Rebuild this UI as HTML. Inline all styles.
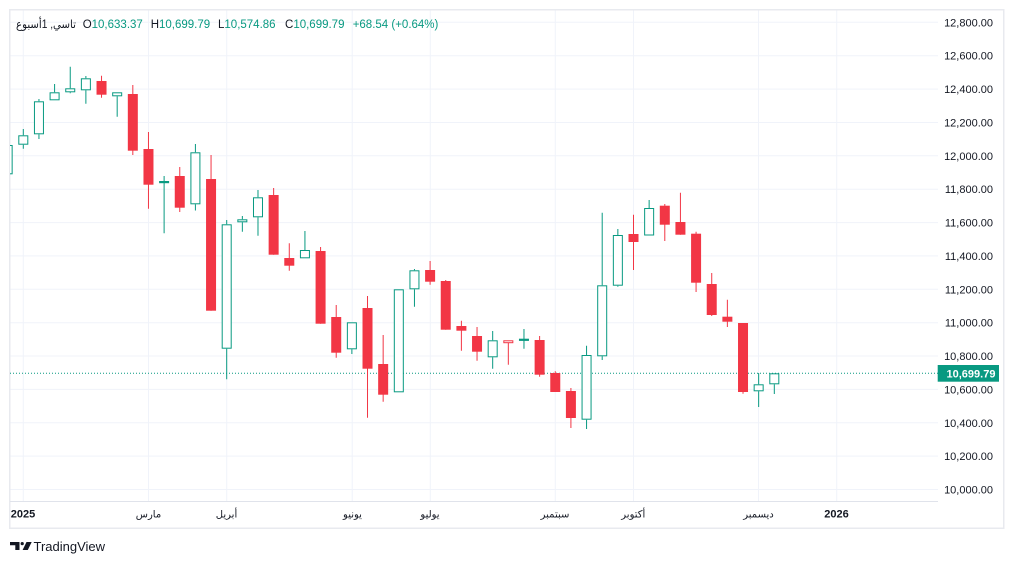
<!DOCTYPE html>
<html><head><meta charset="utf-8"><style>
html,body{margin:0;padding:0;background:#fff;width:1014px;height:564px;overflow:hidden}
svg{display:block}
text{font-family:"Liberation Sans","DejaVu Sans",sans-serif}
</style></head><body>
<svg width="1014" height="564" viewBox="0 0 1014 564" xmlns="http://www.w3.org/2000/svg">
<defs><clipPath id="pl"><rect x="10" y="10" width="928" height="491"/></clipPath></defs>
<rect x="0" y="0" width="1014" height="564" fill="#fff"/>
<!-- grid -->
<g stroke="#f0f3fa" stroke-width="1">
<path d="M10 489.5H938M10 456.1H938M10 422.8H938M10 389.4H938M10 356H938M10 322.7H938M10 289.3H938M10 255.9H938M10 222.6H938M10 189.2H938M10 155.8H938M10 122.5H938M10 89.1H938M10 55.7H938M10 22.3H938"/>
<path d="M23.3 10V501M148.5 10V501M226.7 10V501M352.2 10V501M430.3 10V501M555.3 10V501M633.5 10V501M758.5 10V501M836.7 10V501"/>
</g>
<!-- border -->
<rect x="9.75" y="9.75" width="994" height="518.5" fill="none" stroke="#e8eaef" stroke-width="1.5"/>
<path d="M10 501.5H938" stroke="#e0e3eb" stroke-width="1"/>
<!-- dotted last price -->
<path d="M10 373.3H938" stroke="#089981" stroke-width="1" stroke-dasharray="1,2"/>
<g clip-path="url(#pl)">
<!-- red wicks -->
<path fill="none" stroke="#f23645" stroke-width="1" d="M101.53 75.7V97.7M132.82 85V155M148.47 132V208.7M179.76 167V212M211.05 155V310.7M273.64 188V254.7M289.28 243.3V270.7M320.58 247V323.7M336.22 305V357.7M367.51 296V417.7M383.16 335V401.7M430.1 261V284.7M445.74 280V329.7M461.39 320.7V350.7M477.04 327V360.7M508.33 342.7V364.7M539.62 336V376.7M555.27 371.3V392M570.91 388V428M633.5 214.7V270M664.79 204V241M680.43 192.7V234.7M696.08 231.7V292M711.73 273V316M727.37 299.7V327M743.02 323V393.7"/>
<!-- red bodies -->
<g fill="#f23645">
<rect x="96.53" y="81" width="10" height="13.7"/>
<rect x="127.82" y="94" width="10" height="56.7"/>
<rect x="143.47" y="149" width="10" height="35.7"/>
<rect x="174.76" y="176" width="10" height="31.7"/>
<rect x="206.05" y="179" width="10" height="131.7"/>
<rect x="268.64" y="195" width="10" height="59.7"/>
<rect x="284.28" y="258" width="10" height="7.7"/>
<rect x="315.58" y="251" width="10" height="72.7"/>
<rect x="331.22" y="317" width="10" height="35.7"/>
<rect x="362.51" y="308" width="10" height="60.7"/>
<rect x="378.16" y="364" width="10" height="30.7"/>
<rect x="425.1" y="270" width="10" height="11.7"/>
<rect x="440.74" y="281" width="10" height="48.7"/>
<rect x="456.39" y="326" width="10" height="4.7"/>
<rect x="472.04" y="336" width="10" height="15.7"/>
<rect x="534.62" y="340" width="10" height="34.7"/>
<rect x="550.27" y="373" width="10" height="19"/>
<rect x="565.91" y="391" width="10" height="27"/>
<rect x="628.5" y="234" width="10" height="8"/>
<rect x="659.79" y="205.7" width="10" height="19"/>
<rect x="675.43" y="222" width="10" height="12.7"/>
<rect x="691.08" y="233.7" width="10" height="49"/>
<rect x="706.73" y="284" width="10" height="31"/>
<rect x="722.37" y="316.7" width="10" height="5"/>
<rect x="738.02" y="323" width="10" height="69"/>
</g>
<rect x="503.83" y="340.8" width="9" height="1.9" fill="#fff" stroke="#f23645" stroke-width="1"/>
<!-- green wicks -->
<path fill="none" stroke="#089981" stroke-width="1" d="M23.3 129V135.3M23.3 144.7V148.7M38.95 99V101.3M38.95 134.3V139M54.59 84V92.3M70.24 66.7V88.3M70.24 92.3V93.3M85.88 76V78.3M85.88 90.3V103.7M117.18 96.3V116.7M164.11 176V233.3M195.41 144V152.3M195.41 204.3V210.5M226.7 220V224.3M226.7 348.7V379.3M242.35 216V219.3M242.35 222.3V231.7M257.99 190V197.3M257.99 217.3V235.7M304.93 231V250M351.87 349.3V354M414.45 269V270.3M414.45 289.3V306.7M492.68 331V340.3M492.68 357.3V368.7M523.97 329V348.7M586.56 345.7V355M586.56 419.7V429M602.2 212.7V285.3M602.2 356.3V360M617.85 229V235M617.85 285.7V286.7M649.14 200V208M758.66 373V384.3M758.66 391.3V407M774.31 384.3V394"/>
<!-- green hollow bodies -->
<g fill="#fff" stroke="#089981" stroke-width="1">
<rect x="3.15" y="145.5" width="9" height="28.3"/>
<rect x="18.8" y="135.8" width="9" height="8.4"/>
<rect x="34.45" y="101.8" width="9" height="32"/>
<rect x="50.09" y="92.8" width="9" height="7"/>
<rect x="65.74" y="88.8" width="9" height="3"/>
<rect x="81.38" y="78.8" width="9" height="11"/>
<rect x="112.68" y="92.8" width="9" height="3"/>
<rect x="190.91" y="152.8" width="9" height="51"/>
<rect x="222.2" y="224.8" width="9" height="123.4"/>
<rect x="237.85" y="219.8" width="9" height="2"/>
<rect x="253.49" y="197.8" width="9" height="19"/>
<rect x="300.43" y="250.5" width="9" height="7.3"/>
<rect x="347.37" y="322.8" width="9" height="26"/>
<rect x="394.31" y="289.8" width="9" height="102"/>
<rect x="409.95" y="270.8" width="9" height="18"/>
<rect x="488.18" y="340.8" width="9" height="16"/>
<rect x="582.06" y="355.5" width="9" height="63.7"/>
<rect x="597.7" y="285.8" width="9" height="70"/>
<rect x="613.35" y="235.5" width="9" height="49.7"/>
<rect x="644.64" y="208.5" width="9" height="26.5"/>
<rect x="754.16" y="384.8" width="9" height="6"/>
<rect x="769.81" y="373.8" width="9" height="10"/>
</g>
<g fill="#089981">
<rect x="159.11" y="181" width="10" height="2.2"/>
<rect x="518.97" y="338.7" width="10" height="2.2"/>
</g>
</g>
<!-- legend -->
<g font-size="11.5">
<text x="16" y="28" fill="#131722" textLength="60" lengthAdjust="spacingAndGlyphs">تاسي, 1أسبوع</text>
<text x="82.7" y="28" fill="#131722">O<tspan fill="#089981">10,633.37</tspan></text>
<text x="150.7" y="28" fill="#131722">H<tspan fill="#089981">10,699.79</tspan></text>
<text x="218" y="28" fill="#131722">L<tspan fill="#089981">10,574.86</tspan></text>
<text x="285" y="28" fill="#131722">C<tspan fill="#089981">10,699.79</tspan></text>
<text x="352.7" y="28" fill="#089981">+68.54 (+0.64%)</text>
</g>
<!-- price axis -->
<g font-size="11" fill="#131722" text-anchor="end">
<text x="993" y="26.3">12,800.00</text>
<text x="993" y="59.7">12,600.00</text>
<text x="993" y="93.1">12,400.00</text>
<text x="993" y="126.5">12,200.00</text>
<text x="993" y="159.8">12,000.00</text>
<text x="993" y="193.2">11,800.00</text>
<text x="993" y="226.6">11,600.00</text>
<text x="993" y="259.9">11,400.00</text>
<text x="993" y="293.3">11,200.00</text>
<text x="993" y="326.7">11,000.00</text>
<text x="993" y="360">10,800.00</text>
<text x="993" y="393.4">10,600.00</text>
<text x="993" y="426.8">10,400.00</text>
<text x="993" y="460.1">10,200.00</text>
<text x="993" y="493.5">10,000.00</text>
</g>
<rect x="937.7" y="365" width="61.3" height="16.7" fill="#089981"/>
<text x="946.5" y="377.3" font-size="11" font-weight="bold" fill="#fff">10,699.79</text>
<!-- time axis -->
<g font-size="11" fill="#131722" text-anchor="middle">
<text x="23" y="517.5" font-weight="bold">2025</text>
<text x="148.5" y="517.5" font-size="10">مارس</text>
<text x="226.5" y="517.5" font-size="10">أبريل</text>
<text x="352.5" y="517.5" font-size="10">يونيو</text>
<text x="430" y="517.5" font-size="10">يوليو</text>
<text x="555" y="517.5" font-size="10">سبتمبر</text>
<text x="633.3" y="517.5" font-size="10">أكتوبر</text>
<text x="758.5" y="517.5" font-size="10">ديسمبر</text>
<text x="836.5" y="517.5" font-weight="bold">2026</text>
</g>
<!-- TradingView logo -->
<g fill="#131722">
<path d="M10 542H19.5V550H15.3V545.2H10Z"/>
<circle cx="22.2" cy="543.6" r="1.6"/>
<path d="M26.5 542H31.7L27.8 550H22.6Z"/>
</g>
<text x="33.5" y="551" font-size="13" fill="#131722">TradingView</text>
</svg>
</body></html>
